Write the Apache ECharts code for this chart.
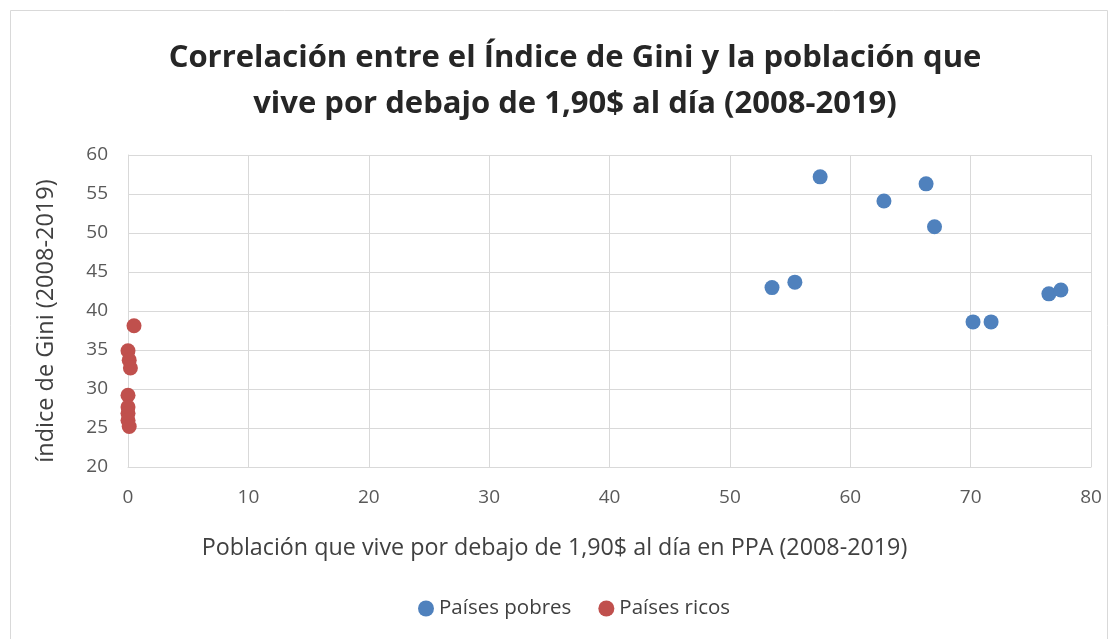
<!DOCTYPE html>
<html><head><meta charset="utf-8">
<script src="https://cdn.jsdelivr.net/npm/echarts@6/dist/echarts.min.js"></script>
<style>html,body{margin:0;padding:0;background:#fff}#c{width:1118px;height:639px}</style>
</head><body><div id="c"></div>
<script>
const poorX = [53.5, 55.4, 57.5, 62.8, 66.3, 67.0, 70.2, 71.7, 76.5, 77.5];
const poorY = [43.0, 43.7, 57.2, 54.1, 56.3, 50.8, 38.6, 38.6, 42.2, 42.7];
const richX = [0.5, 0.0, 0.1, 0.2, 0.0, 0.0, 0.0, 0.0, 0.1];
const richY = [38.1, 34.9, 33.7, 32.7, 29.2, 27.7, 26.9, 26.0, 25.2];
const poorName = 'Países pobres';
const richName = 'Países ricos';
const titleText = 'Correlación entre el Índice de Gini y la población que\nvive por debajo de 1,90$ al día (2008-2019)';
const xName = 'Población que vive por debajo de 1,90$ al día en PPA (2008-2019)';
const yName = 'índice de Gini (2008-2019)';

const font = '"Open Sans", sans-serif';
const chart = echarts.init(document.getElementById('c'), null, {renderer: 'canvas'});
chart.setOption({
  backgroundColor: '#fff',
  animation: false,
  graphic: [{type: 'rect', shape: {x: 10.5, y: 10.5, width: 1097, height: 640}, style: {fill: 'none', stroke: '#d9d9d9', lineWidth: 1}, z: -1}],
  title: {
    text: titleText, left: 570, textAlign: 'center', top: 30,
    textStyle: {fontFamily: font, fontWeight: 'bold', fontSize: 31, color: '#262626', lineHeight: 46}
  },
  legend: {
    bottom: 15, left: 413, itemWidth: 16, itemHeight: 16, itemGap: 27, icon: 'circle',
    textStyle: {fontFamily: font, fontSize: 20.5, color: '#404040'}
  },
  grid: {left: 128, right: 27, top: 155, bottom: 172},
  xAxis: {
    type: 'value', min: 0, max: 80, interval: 10,
    name: xName, nameLocation: 'middle', nameGap: 70,
    nameTextStyle: {fontFamily: font, fontSize: 23.3, color: '#404040', padding: [0, 110, 0, 0]},
    axisLine: {show: true, lineStyle: {color: '#d9d9d9'}},
    axisTick: {show: false},
    axisLabel: {fontFamily: font, fontSize: 19, color: '#595959', margin: 21},
    splitLine: {show: true, lineStyle: {color: '#d9d9d9', width: 1}}
  },
  yAxis: {
    type: 'value', min: 20, max: 60, interval: 5,
    name: yName, nameLocation: 'middle', nameGap: 70, nameRotate: 90,
    nameTextStyle: {fontFamily: font, fontSize: 23.5, color: '#404040', padding: [0, 20, 0, 0]},
    axisLine: {show: true, lineStyle: {color: '#d9d9d9'}},
    axisTick: {show: false},
    axisLabel: {fontFamily: font, fontSize: 19, color: '#595959', margin: 20},
    splitLine: {show: true, lineStyle: {color: '#d9d9d9', width: 1}}
  },
  series: [
    {name: poorName, type: 'scatter', symbolSize: 15, itemStyle: {color: '#4F81BD', opacity: 1},
     data: poorX.map((x, i) => [x, poorY[i]])},
    {name: richName, type: 'scatter', symbolSize: 15, itemStyle: {color: '#C0504D', opacity: 1},
     data: richX.map((x, i) => [x, richY[i]])}
  ]
});
</script></body></html>
